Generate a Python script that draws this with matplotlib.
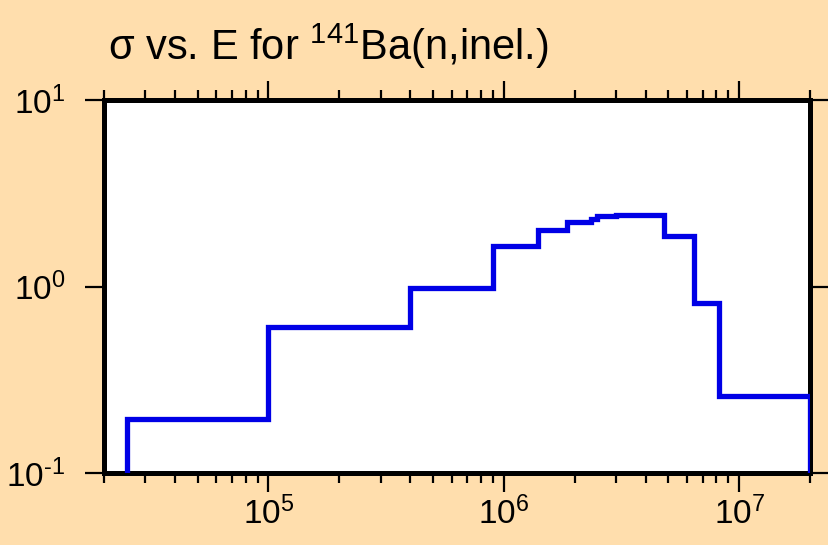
import matplotlib as mpl
mpl.use("Agg")
import matplotlib.pyplot as plt
import numpy as np
from matplotlib.ticker import LogLocator, NullLocator, FuncFormatter

# energy bin edges (eV) and cross sections (b)
edges = [2.5e4, 1.0e5, 4.0e5, 9.0e5, 1.4e6, 1.85e6, 2.35e6, 2.5e6, 3.0e6,
         4.8e6, 6.4e6, 8.2e6, 2.0e7]
sigma = [0.195, 0.61, 0.98, 1.64, 2.01, 2.22, 2.31, 2.38, 2.43,
         1.87, 0.82, 0.26]

x_limits = (2e4, 2e7)
y_limits = (0.1, 10)
title = r"σ vs. E for $^{141}$Ba(n,inel.)"

BG = "#FFDEAD"
LINE = "#0000E6"

mpl.rcParams.update({
    "font.family": ["Liberation Sans", "DejaVu Sans"],
    "mathtext.fontset": "custom",
    "mathtext.rm": "Liberation Sans",
    "mathtext.it": "Liberation Sans:italic",
    "mathtext.bf": "Liberation Sans:bold",
    "axes.unicode_minus": False,
})


def pow10_label(v, pos):
    exp = int(round(np.log10(v)))
    if exp < 0:
        return r"$\mathregular{10^{\text{-}%d}}$" % (-exp)
    return r"$\mathregular{10^{%d}}$" % exp


fig = plt.figure(figsize=(8.29, 5.45), dpi=100, facecolor=BG)
ax = fig.add_axes([104 / 829, 1 - 473 / 545, 706 / 829, 373 / 545])
ax.set_facecolor("white")

ax.stairs(sigma, edges, baseline=y_limits[0], color=LINE, linewidth=3.8,
          zorder=3)

ax.set_xscale("log")
ax.set_yscale("log")
ax.set_xlim(*x_limits)
ax.set_ylim(*y_limits)

ax.xaxis.set_major_locator(LogLocator(base=10, numticks=10))
ax.xaxis.set_minor_locator(LogLocator(base=10, subs=range(2, 10), numticks=30))
ax.yaxis.set_major_locator(LogLocator(base=10, numticks=10))
ax.yaxis.set_minor_locator(NullLocator())
ax.xaxis.set_major_formatter(FuncFormatter(pow10_label))
ax.yaxis.set_major_formatter(FuncFormatter(pow10_label))

for s in ax.spines.values():
    s.set_linewidth(3.6)
    s.set_color("black")

ax.tick_params(axis="x", which="both", direction="out", top=True,
               bottom=True, labelsize=24, width=1.6, pad=3)
ax.tick_params(axis="x", which="major", length=14)
ax.tick_params(axis="x", which="minor", length=7)
ax.tick_params(axis="y", which="major", direction="out", left=True,
               right=True, length=14, width=1.6, labelsize=24, pad=14)

fig.text(108 / 829, 1 - 60 / 545, title, fontsize=30, ha="left",
         va="baseline")

fig.savefig("out.png", dpi=100, facecolor=BG)
